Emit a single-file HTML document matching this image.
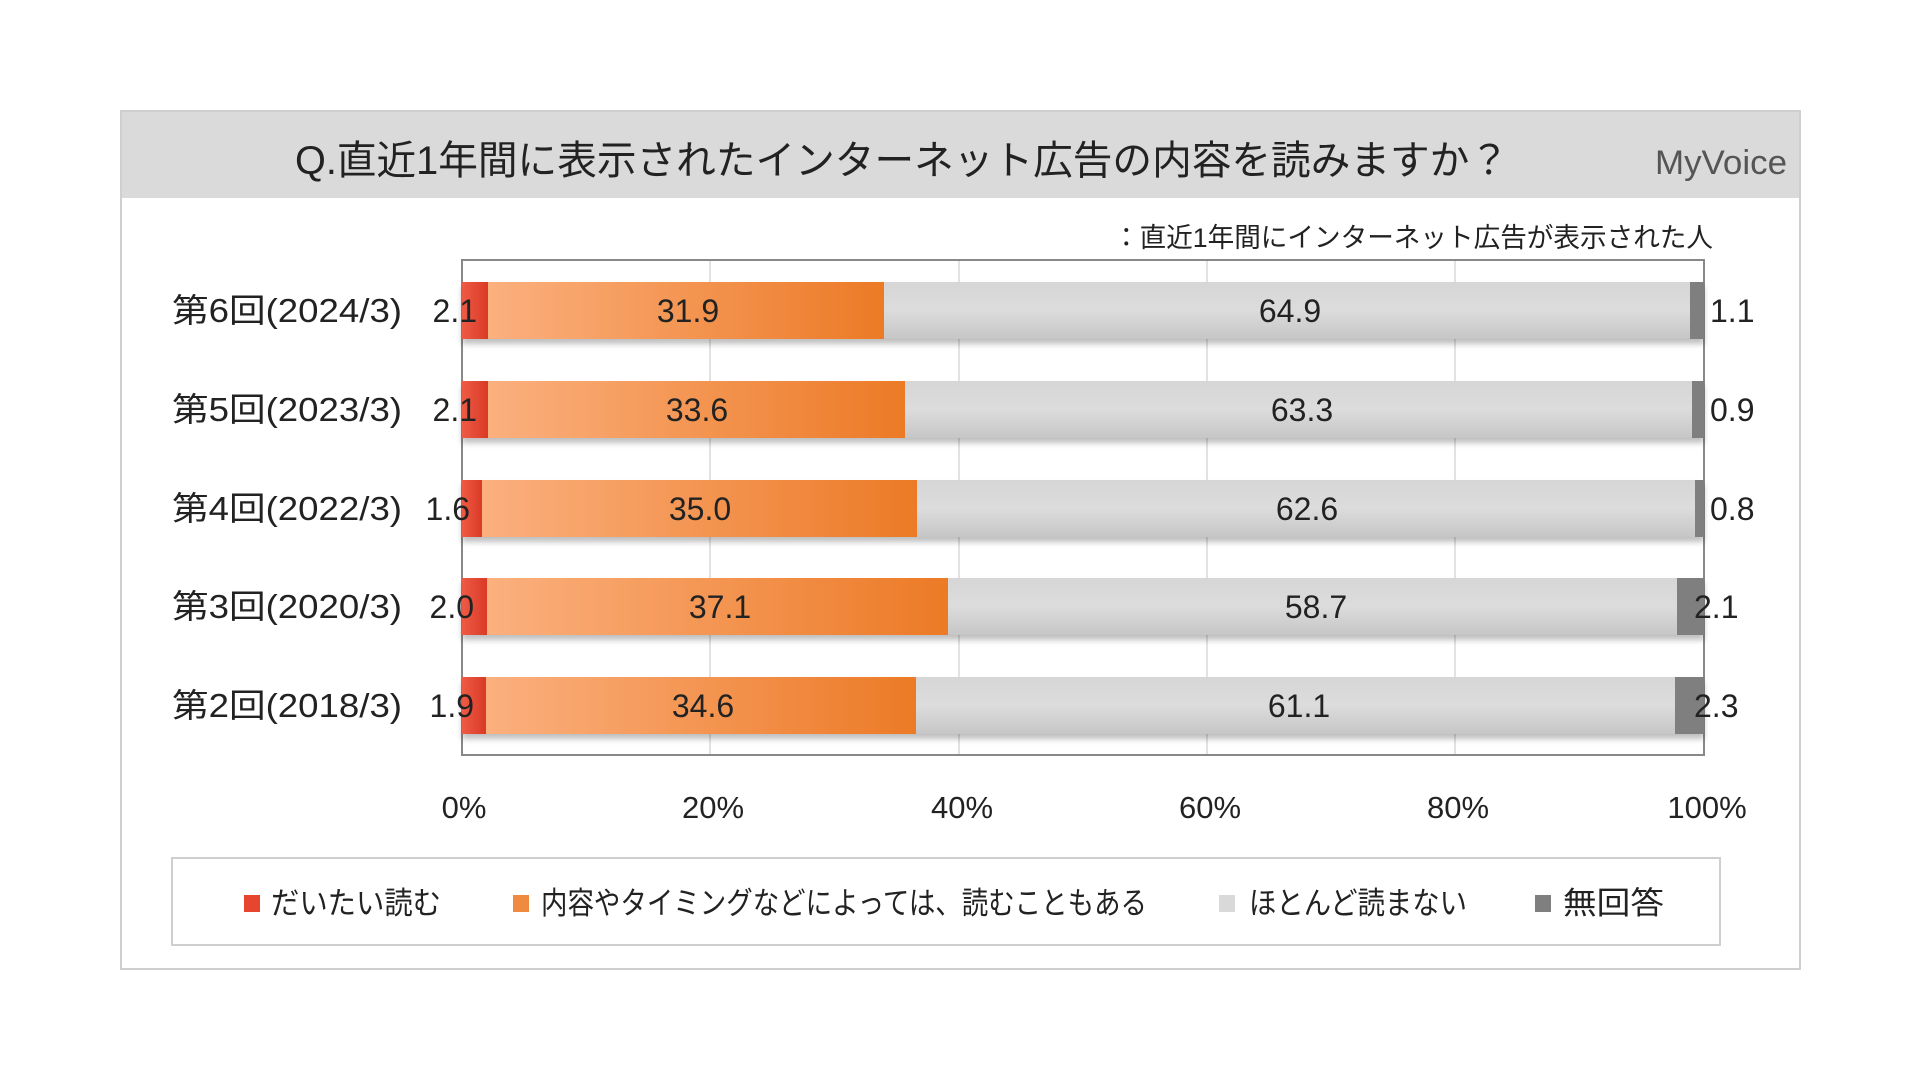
<!DOCTYPE html>
<html><head><meta charset="utf-8"><style>
html,body{margin:0;padding:0;background:#fff;}
svg{display:block;}
text{font-family:"Liberation Sans","Noto Sans CJK JP",sans-serif;fill:#222;}
</style></head><body>
<svg width="1920" height="1080" viewBox="0 0 1920 1080" xmlns="http://www.w3.org/2000/svg">
<defs>
<linearGradient id="og" x1="0" x2="1" y1="0" y2="0"><stop offset="0" stop-color="#fbb07e"/><stop offset="1" stop-color="#ec7a26"/></linearGradient>
<linearGradient id="gg" x1="0" x2="0" y1="0" y2="1"><stop offset="0" stop-color="#d6d6d6"/><stop offset="0.5" stop-color="#dcdcdc"/><stop offset="1" stop-color="#c6c6c6"/></linearGradient>
<linearGradient id="rg" x1="0" x2="1" y1="0" y2="0"><stop offset="0" stop-color="#ef5b45"/><stop offset="1" stop-color="#d93a26"/></linearGradient>
<filter id="sh" x="-5%" y="-20%" width="110%" height="160%"><feDropShadow dx="0" dy="5" stdDeviation="3" flood-color="#000" flood-opacity="0.25"/></filter>
</defs>
<rect x="121" y="111" width="1679" height="858" fill="#fff" stroke="#cfcfcf" stroke-width="2"/>
<rect x="122" y="112" width="1677" height="86" fill="#dadada"/>
<text x="295" y="174" font-size="40" textLength="1214" lengthAdjust="spacingAndGlyphs">Q.直近1年間に表示されたインターネット広告の内容を読みますか？</text>
<text x="1655" y="174" font-size="34" textLength="132" lengthAdjust="spacingAndGlyphs" style="fill:#555">MyVoice</text>
<text x="1113" y="247" font-size="27" textLength="600" lengthAdjust="spacingAndGlyphs">：直近1年間にインターネット広告が表示された人</text>
<rect x="462" y="260" width="1242" height="495" fill="#fff" stroke="#888" stroke-width="2"/>
<g stroke="#d9d9d9" stroke-width="1.5">
<line x1="710" y1="261" x2="710" y2="754"/><line x1="959" y1="261" x2="959" y2="754"/><line x1="1207" y1="261" x2="1207" y2="754"/><line x1="1455" y1="261" x2="1455" y2="754"/>
</g>
<g filter="url(#sh)">
<g transform="translate(0,282)"><rect x="462" width="26" height="57" fill="url(#rg)"/><rect x="488" width="396" height="57" fill="url(#og)"/><rect x="884" width="806" height="57" fill="url(#gg)"/><rect x="1690" width="14" height="57" fill="#7f7f7f"/></g>
<g transform="translate(0,381)"><rect x="462" width="26" height="57" fill="url(#rg)"/><rect x="488" width="417" height="57" fill="url(#og)"/><rect x="905" width="787" height="57" fill="url(#gg)"/><rect x="1692" width="12" height="57" fill="#7f7f7f"/></g>
<g transform="translate(0,480)"><rect x="462" width="20" height="57" fill="url(#rg)"/><rect x="482" width="435" height="57" fill="url(#og)"/><rect x="917" width="778" height="57" fill="url(#gg)"/><rect x="1695" width="9" height="57" fill="#7f7f7f"/></g>
<g transform="translate(0,578)"><rect x="462" width="25" height="57" fill="url(#rg)"/><rect x="487" width="461" height="57" fill="url(#og)"/><rect x="948" width="729" height="57" fill="url(#gg)"/><rect x="1677" width="27" height="57" fill="#7f7f7f"/></g>
<g transform="translate(0,677)"><rect x="462" width="24" height="57" fill="url(#rg)"/><rect x="486" width="430" height="57" fill="url(#og)"/><rect x="916" width="759" height="57" fill="url(#gg)"/><rect x="1675" width="29" height="57" fill="#7f7f7f"/></g>
</g>
<g font-size="33">
<text x="172" y="322" textLength="230" lengthAdjust="spacingAndGlyphs">第6回(2024/3)</text>
<text x="172" y="421" textLength="230" lengthAdjust="spacingAndGlyphs">第5回(2023/3)</text>
<text x="172" y="520" textLength="230" lengthAdjust="spacingAndGlyphs">第4回(2022/3)</text>
<text x="172" y="618" textLength="230" lengthAdjust="spacingAndGlyphs">第3回(2020/3)</text>
<text x="172" y="717" textLength="230" lengthAdjust="spacingAndGlyphs">第2回(2018/3)</text>
</g>
<g font-size="32" text-anchor="end">
<text x="477" y="322">2.1</text><text x="477" y="421">2.1</text><text x="470" y="520">1.6</text><text x="474" y="618">2.0</text><text x="474" y="717">1.9</text>
</g>
<g font-size="32" text-anchor="middle">
<text x="688" y="322">31.9</text><text x="697" y="421">33.6</text><text x="700" y="520">35.0</text><text x="720" y="618">37.1</text><text x="703" y="717">34.6</text>
<text x="1290" y="322">64.9</text><text x="1302" y="421">63.3</text><text x="1307" y="520">62.6</text><text x="1316" y="618">58.7</text><text x="1299" y="717">61.1</text>
</g>
<g font-size="32">
<text x="1710" y="322">1.1</text><text x="1710" y="421">0.9</text><text x="1710" y="520">0.8</text><text x="1694" y="618">2.1</text><text x="1694" y="717">2.3</text>
</g>
<g font-size="31" text-anchor="middle">
<text x="464" y="818">0%</text><text x="713" y="818">20%</text><text x="962" y="818">40%</text><text x="1210" y="818">60%</text><text x="1458" y="818">80%</text><text x="1707" y="818">100%</text>
</g>
<rect x="172" y="858" width="1548" height="87" fill="#fff" stroke="#cfcfcf" stroke-width="2"/>
<g font-size="31">
<rect x="244" y="895" width="16" height="17" fill="#e8452f"/><text x="271" y="914" textLength="170" lengthAdjust="spacingAndGlyphs">だいたい読む</text>
<rect x="513" y="895" width="16" height="17" fill="#f08a3e"/><text x="541" y="914" textLength="606" lengthAdjust="spacingAndGlyphs">内容やタイミングなどによっては、読むこともある</text>
<rect x="1219" y="895" width="16" height="17" fill="#d9d9d9"/><text x="1249" y="914" textLength="218" lengthAdjust="spacingAndGlyphs">ほとんど読まない</text>
<rect x="1535" y="895" width="16" height="17" fill="#7f7f7f"/><text x="1563" y="914" textLength="101" lengthAdjust="spacingAndGlyphs">無回答</text>
</g>
</svg>
</body></html>
